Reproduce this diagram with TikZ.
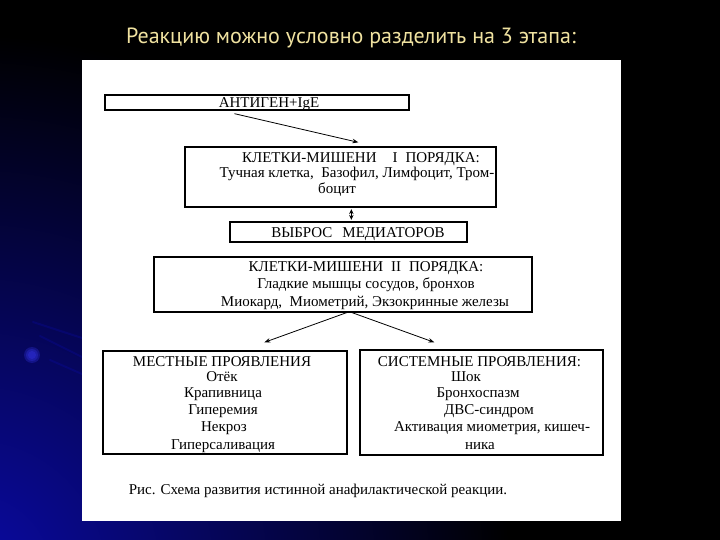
\documentclass[tikz,border=0pt]{standalone}
\usepackage{fontspec}
\setmainfont{Liberation Serif}
\newfontfamily\titlefont{PT Sans}
\usetikzlibrary{arrows.meta,calc}
\definecolor{titlecol}{RGB}{240,226,160}
\definecolor{bgblue}{RGB}{10,10,165}
\definecolor{glowblue}{RGB}{60,60,255}
\tikzset{
  box/.style={draw=black, line width=1.3pt, fill=white, inner sep=0pt, minimum width=#1},
  txt/.style={inner sep=0pt, anchor=base, font=\fontsize{15}{17}\selectfont, text=black},
  arr/.style={line width=0.8pt, -{Stealth[length=6pt,width=4.5pt]}},
  darr/.style={line width=0.8pt, {Stealth[length=5pt,width=4.5pt]}-{Stealth[length=5pt,width=4.5pt]}},
  streak/.style={line width=2pt, draw=bgblue, opacity=0.3, line cap=round},
  glow/.style={fill=glowblue, opacity=0.25}
}
\begin{document}
\begin{tikzpicture}[x=1pt,y=-1pt]
\useasboundingbox (0,0) rectangle (720,540);
% background
\fill[black] (0,0) rectangle (720,540);
\begin{scope}
\clip (0,0) rectangle (720,540);
\shade[inner color=bgblue, outer color=black] (-30,575) circle (540);
\end{scope}
\draw[streak] (33,322) -- (82,338);
\draw[streak] (40,336) -- (82,357);
\draw[streak] (50,360) -- (82,374);
\fill[glow] (32,355) circle (8);
\fill[glow] (32,355) circle (6);
\fill[glow] (32,355) circle (4);
% title
\node[text=titlecol, font=\titlefont\fontsize{22}{25}\selectfont, inner sep=0pt] (title) at (351,38) {Реакцию можно условно разделить на 3 этапа:};
% white panel
\fill[white] (82,60) rectangle (621,521);
% boxes
\node[box=304pt, minimum height=15pt] (b1) at (257,102.5) {};
\node[box=311pt, minimum height=60pt] (b2) at (340.5,177) {};
\node[box=237pt, minimum height=20pt] (b3) at (348.5,232) {};
\node[box=378pt, minimum height=55pt] (b4) at (343,284.5) {};
\node[box=244pt, minimum height=103pt] (b5) at (225,402.5) {};
\node[box=243pt, minimum height=105pt] (b6) at (481.5,402.5) {};
% texts
\node[txt] (t1) at (269,107.5) {АНТИГЕН+IgE};
\node[txt] (t2a) at (361,163) {КЛЕТКИ-МИШЕНИ\hspace{16pt}I\hspace{8pt}ПОРЯДКА:};
\node[txt] (t2b) at (357,178) {Тучная клетка,\ \ Базофил, Лимфоцит, Тром-};
\node[txt] (t2c) at (337,194) {боцит};
\node[txt] (t3) at (358,237) {ВЫБРОС\hspace{10pt}МЕДИАТОРОВ};
\node[txt] (t4a) at (366,271) {КЛЕТКИ-МИШЕНИ\hspace{8pt}II\hspace{8pt}ПОРЯДКА:};
\node[txt] (t4b) at (366,288) {Гладкие мышцы сосудов, бронхов};
\node[txt] (t4c) at (365,306) {Миокард,\ \ Миометрий, Экзокринные железы};
\node[txt] (t5a) at (222,366) {МЕСТНЫЕ ПРОЯВЛЕНИЯ};
\node[txt] (t5b) at (222,381) {Отёк};
\node[txt] (t5c) at (223,397) {Крапивница};
\node[txt] (t5d) at (223,414) {Гиперемия};
\node[txt] (t5e) at (224,431) {Некроз};
\node[txt] (t5f) at (223,449) {Гиперсаливация};
\node[txt] (t6a) at (479.5,366) {СИСТЕМНЫЕ ПРОЯВЛЕНИЯ:};
\node[txt] (t6b) at (466,381) {Шок};
\node[txt] (t6c) at (478,397) {Бронхоспазм};
\node[txt] (t6d) at (489,414) {ДВС-синдром};
\node[txt] (t6e) at (492,431) {Активация миометрия, кишеч-};
\node[txt] (t6f) at (480,449) {ника};
\node[txt] (cap) at (318,494) {Рис. Схема развития истинной анафилактической реакции.};
% connectors
\path (b1.south west) ++(130,3) coordinate (a1s);
\path (b2.north west) ++(174,-4) coordinate (a1e);
\draw[arr] (a1s) -- (a1e);
\path (b2.south west) ++(167,1.5) coordinate (a2s);
\path (b3.north west) ++(122,-1.5) coordinate (a2e);
\draw[darr] (a2s) -- (a2e);
\path (b4.south west) ++(196,-1) coordinate (a3s);
\path (b5.north west) ++(162,-8) coordinate (a3e);
\path (b6.north west) ++(75,-7) coordinate (a4e);
\draw[arr] (a3s) -- (a3e);
\draw[arr] (a3s) -- (a4e);
\end{tikzpicture}
\end{document}
